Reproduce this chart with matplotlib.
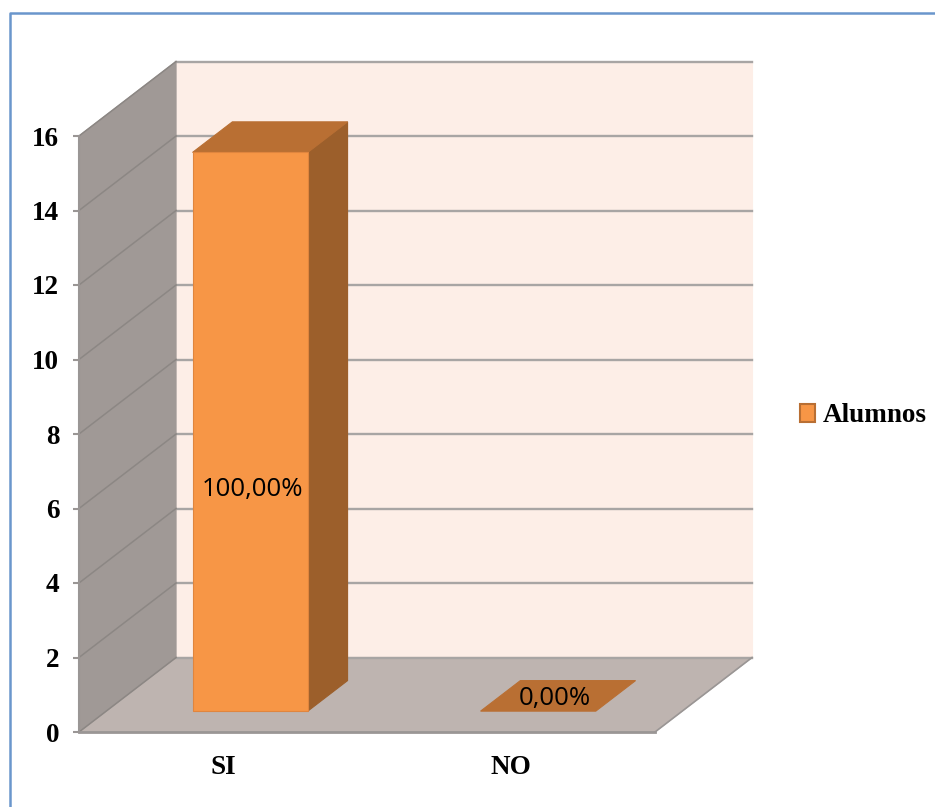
import matplotlib
matplotlib.use("Agg")
import matplotlib.pyplot as plt
from matplotlib.lines import Line2D
from matplotlib.patches import Patch

categories = ["SI", "NO"]
alumnos = [15, 0]
pct_labels = ["100,00%", "0,00%"]
y_ticks = [0, 2, 4, 6, 8, 10, 12, 14, 16]
series_name = "Alumnos"

W, H = 935, 807
X0, X1, Y0, Y16 = 79, 655, 732, 136
YMAX = 16
DEPTH_X, DEPTH_Y = 0.337, 2.0   # depth offset in data units
BAR_W, BAR_D0, BAR_D1 = 0.40, 0.28, 0.69

ORANGE, TOP, SIDE = "#F79646", "#B96F33", "#9C5F2B"
BACK, WALL, FLOOR, GRID = "#FDEEE7", "#A09996", "#BEB4B0", "#A8A5A4"
SERIF = ["Liberation Serif", "DejaVu Serif"]

fig = plt.figure(figsize=(W / 100, H / 100), dpi=100, facecolor="white")
ax = fig.add_axes([X0 / W, 1 - Y0 / H, (X1 - X0) / W, (Y0 - Y16) / H])
ax.set_xlim(-0.5, 1.5)
ax.set_ylim(0, YMAX)
ax.patch.set_visible(False)
for s in ax.spines.values():
    s.set_visible(False)


def proj(x, y, d):
    return x + d * DEPTH_X, y + d * DEPTH_Y


def face(points, color, z, edge=None):
    xs, ys = zip(*[proj(*p) for p in points])
    ax.fill(xs, ys, facecolor=color, edgecolor=edge or color, linewidth=0.8,
            zorder=z, clip_on=False)


xa, xb = ax.get_xlim()
# walls
face([(xa, 0, 1), (xb, 0, 1), (xb, YMAX, 1), (xa, YMAX, 1)], BACK, 1)
face([(xa, 0, 0), (xb, 0, 0), (xb, 0, 1), (xa, 0, 1)], FLOOR, 2)
face([(xa, 0, 0), (xa, 0, 1), (xa, YMAX, 1), (xa, YMAX, 0)], WALL, 3)

# gridlines on the back and side walls
for v in y_ticks:
    p0 = proj(xa, v, 0)
    p1 = proj(xa, v, 1)
    p2 = proj(xb, v, 1)
    ax.plot([p0[0], p1[0]], [p0[1], p1[1]], color="#8C8784", lw=1.1, zorder=4, clip_on=False)
    ax.plot([p1[0], p2[0]], [p1[1], p2[1]], color=GRID, lw=1.7, zorder=2.5, clip_on=False)

# axis edges
ax.plot([xa, xb], [0, 0], color="#9A9695", lw=2, zorder=5, clip_on=False)
ax.plot([xa, xa], [0, YMAX], color="#9A9695", lw=1.5, zorder=5, clip_on=False)
p = proj(xb, 0, 1)
ax.plot([xb, p[0]], [0, p[1]], color="#9A9695", lw=1.2, zorder=2.5, clip_on=False)

# bars
for i, (v, lab) in enumerate(zip(alumnos, pct_labels)):
    l, r = i - BAR_W / 2, i + BAR_W / 2
    if v > 0:
        face([(l, 0, BAR_D0), (r, 0, BAR_D0), (r, v, BAR_D0), (l, v, BAR_D0)], ORANGE, 7, "#E0853E")
        face([(r, 0, BAR_D0), (r, 0, BAR_D1), (r, v, BAR_D1), (r, v, BAR_D0)], SIDE, 6)
    face([(l, v, BAR_D0), (r, v, BAR_D0), (r, v, BAR_D1), (l, v, BAR_D1)], TOP, 6)
    cx, cy = proj(i, v / 2, BAR_D0 if v > 0 else (BAR_D0 + BAR_D1) / 2)
    ax.text(cx + (0.008 if v > 0 else -0.012), cy - (1.56 if v > 0 else 0.08), lab, ha="center", va="center",
            fontsize=18.5, family="Open Sans", color="black", zorder=9)

# axes ticks and labels
ax.set_yticks(y_ticks)
ax.set_xticks(range(len(categories)))
ax.set_xticklabels(categories)
ax.tick_params(axis="y", length=4.3, width=1.5, color="#9A9695", pad=10)
ax.tick_params(axis="x", length=0, pad=16.5)
for t in ax.get_xticklabels() + ax.get_yticklabels():
    t.set_fontfamily(SERIF)
    t.set_fontweight("bold")
    t.set_fontsize(19.5)
    t.set_color("black")

# legend
handle = Patch(facecolor=ORANGE, edgecolor=TOP, linewidth=1.5, label=series_name)
fig.legend(handles=[handle], loc="center left", bbox_to_anchor=(800 / W, 1 - 416 / H),
           frameon=False, borderaxespad=0, borderpad=0, handlelength=0.55, handleheight=0.62,
           handletextpad=0.3, prop={"family": SERIF, "weight": "bold", "size": 19.5})

# chart frame (runs off the picture on the right and bottom)
fig.add_artist(Line2D([9.5 / W, 9.5 / W, 1], [0, 1 - 13 / H, 1 - 13 / H],
                      color="#6A96CC", lw=1.8, transform=fig.transFigure))

fig.savefig("out.png", dpi=100, facecolor="white")
